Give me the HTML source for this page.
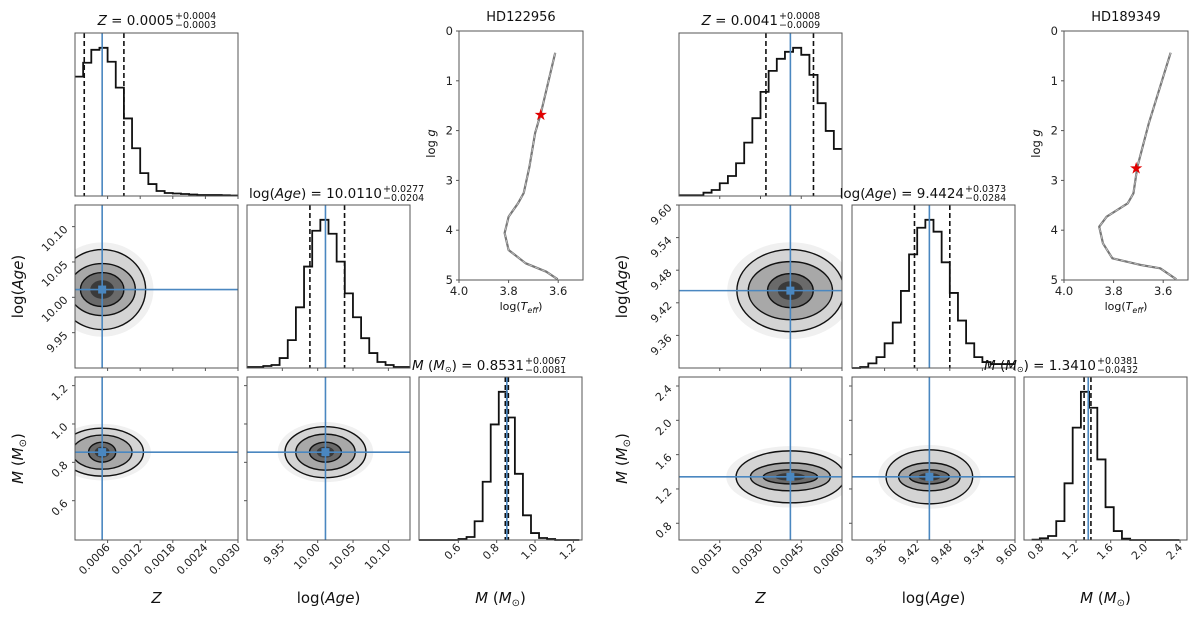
<!DOCTYPE html>
<html><head><meta charset="utf-8"><style>
html,body{margin:0;padding:0;background:#fff;}
svg{display:block;font-family:"DejaVu Sans","Liberation Sans",sans-serif;}
</style></head><body>
<svg id="fig" width="1198" height="620" viewBox="0 0 1198 620" xmlns="http://www.w3.org/2000/svg"></svg>
<script>
// ---------- DATA ----------
// Left star (HD122956)
const L_zRange = [0, 0.003];
const L_ageRange = [9.90, 10.1306];
const L_mRange = [0.395, 1.245];
const L_zCounts = [120,134,147,149,135,109,78,48,23,12,5,3,2.5,2,1.5,1,1,1,0.7,0.5];
const L_zBin = [0, 0.00015];
const L_ageCounts = [1,1,2,3,10,28,61,102,138,149,135,107,75,51,30,15,6,3,1,1];
const L_ageBin = [9.90, 0.01153];
const L_mCounts = [0,0,0,0,0,1,3,19,59,117,150,124,67,25,7,2,1,0,0,0];
const L_mBin = [0.391, 0.042];
const L_median = [0.0005, 10.011, 0.8531];
const L_qLow = [0.00017, 9.989, 0.845];
const L_qHigh = [0.0009, 10.038, 0.861];
const L_zTicks = [0.0006,0.0012,0.0018,0.0024,0.0030];
const L_zTickLabels = ["0.0006","0.0012","0.0018","0.0024","0.0030"];
const L_ageTicks = [9.95,10.00,10.05,10.10];
const L_ageTickLabels = ["9.95","10.00","10.05","10.10"];
const L_mTicks = [0.6,0.8,1.0,1.2];
const L_mTickLabels = ["0.6","0.8","1.0","1.2"];
const L_cZA_rx = [0.0008,0.00061,0.0004], L_cZA_ry = [0.0566,0.0368,0.024];
const L_cZM_rx = [0.00076,0.00055,0.00025], L_cZM_ry = [0.125,0.089,0.052];
const L_cAM_rx = [0.0573,0.042,0.0226], L_cAM_ry = [0.133,0.094,0.052];
const L_trackT = [3.612,3.670,3.693,3.716,3.739,3.762,3.800,3.816,3.800,3.731,3.648,3.602];
const L_trackG = [0.436,1.653,2.048,2.725,3.253,3.46,3.729,4.056,4.398,4.665,4.833,4.986];
const L_star = [3.670, 1.687];
// Right star (HD189349)
const R_zRange = [0, 0.006];
const R_ageRange = [9.30, 9.60];
const R_mRangeX = [0.60, 2.48];
const R_mRangeY = [0.605, 2.505];
const R_zCounts = [0.7,0.7,0.7,3.3,6,12.7,20,32.7,53.3,77.7,104,125,137,144,148,141,121,92.7,65,47];
const R_zBin = [0, 0.0003];
const R_ageCounts = [0,1,4.7,11,25,46,78,115,142,150,138,107,76,48,25,11,6,4,4,4];
const R_ageBin = [9.30, 0.015];
const R_mCounts = [0.3,1.7,4,19,57,113,149,133,81,33,9,1.3,0,0,0,0,0,0];
const R_mBin = [0.688, 0.0947];
const R_median = [0.0041, 9.4424, 1.341];
const R_qLow = [0.0032, 9.415, 1.293];
const R_qHigh = [0.00495, 9.48, 1.372];
const R_zTicks = [0.0015,0.0030,0.0045,0.0060];
const R_zTickLabels = ["0.0015","0.0030","0.0045","0.0060"];
const R_ageTicks = [9.36,9.42,9.48,9.54,9.60];
const R_ageTickLabels = ["9.36","9.42","9.48","9.54","9.60"];
const R_mTicks = [0.8,1.2,1.6,2.0,2.4];
const R_mTickLabels = ["0.8","1.2","1.6","2.0","2.4"];
const R_cZA_rx = [0.00197,0.00155,0.00084], R_cZA_ry = [0.0755,0.0534,0.0313];
const R_cZM_rx = [0.002,0.00147,0.001], R_cZM_ry = [0.303,0.163,0.082];
const R_cAM_rx = [0.0797,0.0566,0.0367], R_cAM_ry = [0.315,0.163,0.082];
const R_trackT = [3.570,3.658,3.704,3.720,3.743,3.828,3.858,3.843,3.805,3.689,3.612,3.547];
const R_trackG = [0.436,1.853,2.725,3.259,3.46,3.729,3.93,4.263,4.564,4.699,4.765,4.986];
const R_star = [3.709, 2.757];
const hrTTicks = [4.0,3.8,3.6];
const hrTTickLabels = ["4.0","3.8","3.6"];
const hrGTicks = [0,1,2,3,4,5];
const hrGTickLabels = ["0","1","2","3","4","5"];

// ---------- DRAWING ----------
const NS = "http://www.w3.org/2000/svg";
const svg = document.getElementById("fig");
const BLUE = "#4a87c0";
function el(tag, attrs, parent, text) {
  const e = document.createElementNS(NS, tag);
  for (const k in attrs) e.setAttribute(k, attrs[k]);
  if (text !== undefined) e.textContent = text;
  (parent || svg).appendChild(e);
  return e;
}
function lin(d0, d1, r0, r1) { return v => r0 + (v - d0) / (d1 - d0) * (r1 - r0); }
const W = 163, H = 163;

function frame(g, x, y, w, h) {
  const r = el("rect", {x:x, y:y, width:w, height:h, fill:"none", stroke:"#555", "stroke-width":1}, g);
  
  
}
function xTicks(g, sx, ticks, labels, yb, showLabels) {
  ticks.forEach((t, i) => {
    const x = sx(t);
    el("line", {x1:x, x2:x, y1:yb, y2:yb+3, stroke:"#555"}, g);
    if (showLabels) {
      const tx = el("text", {x:x+3, y:yb+8, "font-size":11, "text-anchor":"end", fill:"#222",
        transform:`rotate(-45 ${x+3} ${yb+8})`}, g, labels[i]);
      
      
    }
  });
}
function yTicks(g, sy, ticks, labels, xl) {
  ticks.forEach((t, i) => {
    const y = sy(t);
    el("line", {x1:xl-3, x2:xl, y1:y, y2:y, stroke:"#555"}, g);
    const tx = el("text", {x:xl-8, y:y+4, "font-size":11, "text-anchor":"end", fill:"#222",
      transform:`rotate(-45 ${xl-8} ${y+2})`}, g, labels[i]);
    
    
  });
}
function hist(g, px, py, range, bin, counts, med, lo, hi) {
  const sx = lin(range[0], range[1], px, px+W);
  const ymax = Math.max(...counts) * 1.1;
  const sy = lin(0, ymax, py+H, py);
  let d = "";
  counts.forEach((c, i) => {
    const x0 = Math.max(px, Math.min(px+W, sx(bin[0] + i*bin[1])));
    const x1 = Math.max(px, Math.min(px+W, sx(bin[0] + (i+1)*bin[1])));
    const y = sy(c);
    d += (i === 0 ? `M${x0},${y}` : `L${x0},${y}`) + `L${x1},${y}`;
  });
  const p = el("path", {d:d, fill:"none", stroke:"#111", "stroke-width":1.8}, g);
  
  
  [lo, hi].forEach(q => {
    const l = el("line", {x1:sx(q), x2:sx(q), y1:py, y2:py+H, stroke:"#111", "stroke-width":1.6, "stroke-dasharray":"5,3"}, g);
    
    
  });
  const m = el("line", {x1:sx(med), x2:sx(med), y1:py, y2:py+H, stroke:BLUE, "stroke-width":1.6}, g);
  
  
  return sx;
}
let clipN = 0;
function density(g, px, py, sx, sy, cx, cy, rx, ry) {
  const id = "clip" + (clipN++);
  const cp = el("clipPath", {id:id}, g);
  el("rect", {x:px, y:py, width:W, height:H}, cp);
  const gg = el("g", {"clip-path":`url(#${id})`}, g);
  const X = sx(cx), Y = sy(cy);
  const px_rx = rx.map(r => Math.abs(sx(cx + r) - X));
  const px_ry = ry.map(r => Math.abs(sy(cy + r) - Y));
  const fills = ["#d4d4d4", "#a8a8a8", "#6a6a6a"];
  el("ellipse", {cx:X, cy:Y, rx:px_rx[0]*1.18, ry:px_ry[0]*1.18, fill:"#f0f0f0"}, gg);
  for (let i = 0; i < 3; i++) {
    const e = el("ellipse", {cx:X, cy:Y, rx:px_rx[i], ry:px_ry[i], fill:fills[i], stroke:"#111", "stroke-width":1.4}, gg);
    
    
  }
  el("ellipse", {cx:X, cy:Y, rx:px_rx[2]*0.55, ry:px_ry[2]*0.55, fill:"#3a3a3a"}, gg);
  const h = el("line", {x1:px, x2:px+W, y1:Y, y2:Y, stroke:BLUE, "stroke-width":1.6}, gg);
  
  
  const v = el("line", {x1:X, x2:X, y1:py, y2:py+H, stroke:BLUE, "stroke-width":1.6}, gg);
  
  
  const sq = el("rect", {x:X-4, y:Y-4, width:8, height:8, fill:BLUE}, gg);
  
  
}
function title(g, xs, y, main, sup, sub) {
  const t = el("text", {x:xs, y:y, "font-size":13.5, "text-anchor":"end", fill:"#111"}, g);
  
  
  main.forEach(p => {
    const s = el("tspan", p[1] ? {"font-style":"italic"} : {}, t, p[0]);
    if (p[2]) s.setAttribute("font-size", p[2]);
    if (p[3]) s.setAttribute("dy", p[3]);
  });
  const a = el("text", {x:xs+1, y:y-6, "font-size":9.5, fill:"#111"}, g, sup);
  
  
  const b = el("text", {x:xs+1, y:y+3, "font-size":9.5, fill:"#111"}, g, sub);
  
  
}
function axisLabel(g, x, y, parts, rot) {
  const t = el("text", {x:x, y:y, "font-size":15, "text-anchor":"middle", fill:"#111",
    transform: rot ? `rotate(-90 ${x} ${y})` : ""}, g);
  
  
  parts.forEach(p => {
    const s = el("tspan", p[1] ? {"font-style":"italic"} : {}, t, p[0]);
    if (p[2]) s.setAttribute("font-size", p[2]);
    if (p[3]) s.setAttribute("dy", p[3]);
  });
}
function hr(g, x0, y0, w, h, T, G, star, name) {
  const sx = lin(4.0, 3.5, x0, x0+w), sy = lin(0, 5, y0, y0+h);
  const f = el("path", {d:`M${x0},${y0}H${x0+w}V${y0+h}H${x0}Z`, fill:"none", stroke:"#555"}, g);
  
  
  hrTTicks.forEach((t, i) => {
    el("line", {x1:sx(t), x2:sx(t), y1:y0+h, y2:y0+h+3, stroke:"#555"}, g);
    const tx = el("text", {x:sx(t), y:y0+h+15, "font-size":11.5, "text-anchor":"middle", fill:"#222"}, g, hrTTickLabels[i]);
    
    
  });
  hrGTicks.forEach((t, i) => {
    el("line", {x1:x0-3, x2:x0, y1:sy(t), y2:sy(t), stroke:"#555"}, g);
    const tx = el("text", {x:x0-6, y:sy(t)+4, "font-size":11.5, "text-anchor":"end", fill:"#222"}, g, hrGTickLabels[i]);
    
    
  });
  let d = "";
  T.forEach((t, i) => { d += (i ? "L" : "M") + sx(t) + "," + sy(G[i]); });
  const tr = el("path", {d:d, fill:"none", stroke:"#777", "stroke-width":2.2, "stroke-linejoin":"round"}, g);
  
  
  el("path", {d:d, fill:"none", stroke:"#c8c8c8", "stroke-width":0.8, "stroke-dasharray":"4,3"}, g);
  const s = el("text", {x:sx(star[0]), y:sy(star[1])+5, "font-size":16, "text-anchor":"middle", fill:"#e00000"}, g, "★");
  
  
  const tt = el("text", {x:x0+w/2, y:y0-10, "font-size":13, "text-anchor":"middle", fill:"#111"}, g, name);
  
  
  const yl = el("text", {x:x0-24, y:y0+h/2-12, "font-size":11.5, "text-anchor":"middle", fill:"#111",
    transform:`rotate(-90 ${x0-24} ${y0+h/2-12})`}, g, "log");
  
  
  el("tspan", {"font-style":"italic"}, yl, " g");
  const xl = el("text", {x:x0+w/2, y:y0+h+30, "font-size":11, "text-anchor":"middle", fill:"#111"}, g, "log(");
  
  
  el("tspan", {"font-style":"italic"}, xl, "T");
  el("tspan", {"font-style":"italic", "font-size":8, dy:3}, xl, "eff");
  el("tspan", {dy:-3}, xl, ")");
}

function corner(cols, cfg) {
  const g = el("g", {});
  
  
  const rows = [33, 205, 377];
  const sxZ = hist(g, cols[0], rows[0], cfg.zR, cfg.zBin, cfg.zC, cfg.med[0], cfg.lo[0], cfg.hi[0]);
  const sxA = hist(g, cols[1], rows[1], cfg.aR, cfg.aBin, cfg.aC, cfg.med[1], cfg.lo[1], cfg.hi[1]);
  const sxM = hist(g, cols[2], rows[2], cfg.mRX, cfg.mBin, cfg.mC, cfg.med[2], cfg.lo[2], cfg.hi[2]);
  const syA = lin(cfg.aR[0], cfg.aR[1], rows[1]+H, rows[1]);
  const syM = lin(cfg.mRY[0], cfg.mRY[1], rows[2]+H, rows[2]);
  density(g, cols[0], rows[1], sxZ, syA, cfg.med[0], cfg.med[1], cfg.cZA[0], cfg.cZA[1]);
  density(g, cols[0], rows[2], sxZ, syM, cfg.med[0], cfg.med[2], cfg.cZM[0], cfg.cZM[1]);
  density(g, cols[1], rows[2], sxA, syM, cfg.med[1], cfg.med[2], cfg.cAM[0], cfg.cAM[1]);
  [[0,0],[0,1],[1,1],[0,2],[1,2],[2,2]].forEach(([c, r]) => frame(g, cols[c], rows[r], W, H));
  xTicks(g, sxZ, cfg.zT, cfg.zTL, rows[0]+H, false);
  xTicks(g, sxZ, cfg.zT, cfg.zTL, rows[1]+H, false);
  xTicks(g, sxA, cfg.aT, cfg.aTL, rows[1]+H, false);
  xTicks(g, sxZ, cfg.zT, cfg.zTL, rows[2]+H, true);
  xTicks(g, sxA, cfg.aT, cfg.aTL, rows[2]+H, true);
  xTicks(g, sxM, cfg.mT, cfg.mTL, rows[2]+H, true);
  yTicks(g, syA, cfg.aT, cfg.aTL, cols[0]);
  yTicks(g, syM, cfg.mT, cfg.mTL, cols[0]);
  cfg.mT.forEach(t => el("line", {x1:cols[1]-3, x2:cols[1], y1:syM(t), y2:syM(t), stroke:"#555"}, g));
  title(g, cfg.t[0], 25, [["Z",1],[" = " + cfg.titleVals[0]]], cfg.titleErr[0][0], cfg.titleErr[0][1]);
  title(g, cfg.t[1], 198, [["log("],["Age",1],[") = " + cfg.titleVals[1]]], cfg.titleErr[1][0], cfg.titleErr[1][1]);
  title(g, cfg.t[2], 370, [["M",1],[" ("],["M",1],["⊙",0,8,2],[") = " + cfg.titleVals[2],0,13.5,-2]], cfg.titleErr[2][0], cfg.titleErr[2][1]);
  const bx = cols.map(c => c + W/2);
  axisLabel(g, bx[0], 603, [["Z",1]]);
  axisLabel(g, bx[1], 603, [["log("],["Age",1],[")"]]);
  axisLabel(g, bx[2], 603, [["M",1],[" ("],["M",1],["⊙",0,10,3],[")",0,15,-3]]);
  axisLabel(g, cols[0]-52, rows[1]+H/2, [["log("],["Age",1],[")"]], true);
  axisLabel(g, cols[0]-52, rows[2]+H/2, [["M",1],[" ("],["M",1],["⊙",0,10,3],[")",0,15,-3]], true);
  hr(g, cfg.hr[0], 31, cfg.hr[1], 249, cfg.tT, cfg.tG, cfg.star, cfg.star_name);
}

corner([75, 247, 419], {
  name:"corner-hd122956", zR:L_zRange, aR:L_ageRange, mRX:L_mRange, mRY:L_mRange,
  zBin:L_zBin, zC:L_zCounts, aBin:L_ageBin, aC:L_ageCounts, mBin:L_mBin, mC:L_mCounts,
  med:L_median, lo:L_qLow, hi:L_qHigh,
  zT:L_zTicks, zTL:L_zTickLabels, aT:L_ageTicks, aTL:L_ageTickLabels, mT:L_mTicks, mTL:L_mTickLabels,
  cZA:[L_cZA_rx, L_cZA_ry], cZM:[L_cZM_rx, L_cZM_ry], cAM:[L_cAM_rx, L_cAM_ry],
  t:[174, 382, 524], titleVals:["0.0005","10.0110","0.8531"],
  titleErr:[["+0.0004","−0.0003"],["+0.0277","−0.0204"],["+0.0067","−0.0081"]],
  hr:[459, 124], tT:L_trackT, tG:L_trackG, star:L_star, star_name:"HD122956"
});
corner([679, 852, 1024], {
  name:"corner-hd189349", zR:R_zRange, aR:R_ageRange, mRX:R_mRangeX, mRY:R_mRangeY,
  zBin:R_zBin, zC:R_zCounts, aBin:R_ageBin, aC:R_ageCounts, mBin:R_mBin, mC:R_mCounts,
  med:R_median, lo:R_qLow, hi:R_qHigh,
  zT:R_zTicks, zTL:R_zTickLabels, aT:R_ageTicks, aTL:R_ageTickLabels, mT:R_mTicks, mTL:R_mTickLabels,
  cZA:[R_cZA_rx, R_cZA_ry], cZM:[R_cZM_rx, R_cZM_ry], cAM:[R_cAM_rx, R_cAM_ry],
  t:[778, 964, 1096], titleVals:["0.0041","9.4424","1.3410"],
  titleErr:[["+0.0008","−0.0009"],["+0.0373","−0.0284"],["+0.0381","−0.0432"]],
  hr:[1064, 124], tT:R_trackT, tG:R_trackG, star:R_star, star_name:"HD189349"
});
</script>
</body></html>
